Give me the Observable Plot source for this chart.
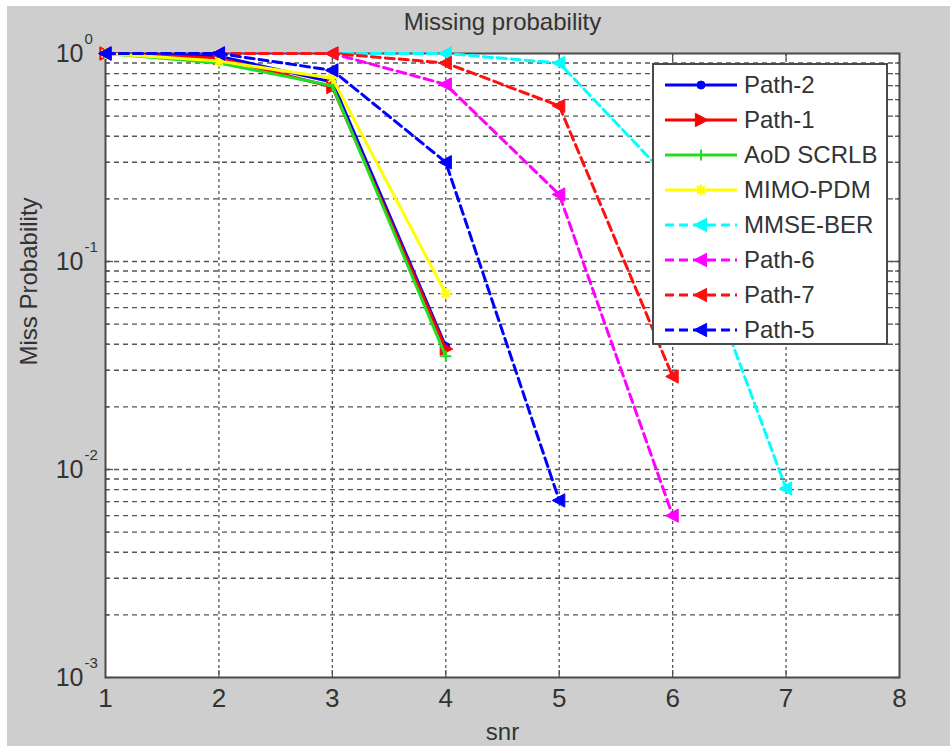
<!DOCTYPE html>
<html><head><meta charset="utf-8">
<script src="https://cdn.jsdelivr.net/npm/d3@7"></script>
<script src="https://cdn.jsdelivr.net/npm/@observablehq/plot@0.6"></script>
<style>
body{margin:0;background:#fff;}
#wrap{position:relative;width:950px;height:746px;overflow:hidden;background:#fff;}
#chart{position:absolute;left:7px;top:6px;}
#legend{position:absolute;left:652px;top:63px;width:232px;height:278px;background:#fff;border:2px solid #4a4a4a;
  font-family:"Liberation Sans",Arial,Helvetica,sans-serif;font-size:24px;color:#333;}
.row{position:absolute;left:0;height:35px;display:flex;align-items:center;}
.row svg{margin-left:11px;}
.row span{margin-left:7px;}
</style></head>
<body><div id="wrap"><div id="chart"></div><div id="legend"></div></div>
<script>
// ---- data ----
const snr = [1, 2, 3, 4, 5, 6, 7, 8];
const path2 = [1, 0.97, 0.73, 0.039];
const path1 = [1, 0.95, 0.69, 0.038];
const aodScrlb = [1, 0.90, 0.70, 0.035];
const mimoPdm = [1, 0.92, 0.76, 0.070];
const mmseBer = [1, 1, 1, 1, 0.90, 0.24, 0.0081];
const path6 = [1, 1, 1, 0.71, 0.21, 0.006];
const path7 = [1, 1, 1, 0.90, 0.56, 0.028];
const path5 = [1, 1, 0.83, 0.30, 0.0071];

const seriesNames = ["Path-2", "Path-1", "AoD SCRLB", "MIMO-PDM", "MMSE-BER", "Path-6", "Path-7", "Path-5"];
const seriesValues = [path2, path1, aodScrlb, mimoPdm, mmseBer, path6, path7, path5];
const seriesColors = ["#0000ff", "#ff0000", "#22dd22", "#ffff00", "#00ffff", "#ff00ff", "#ff1010", "#0000ff"];
const seriesDashed = [false, false, false, false, true, true, true, true];
const seriesMarkers = ["dot", "right", "plus", "star", "left", "left", "left", "left"];

const yTickExponents = [0, -1, -2, -3];
const xTickLabels = ["1", "2", "3", "4", "5", "6", "7", "8"];
const titleText = "Missing probability";
const xLabel = "snr";
const yLabel = "Miss Probability";

// ---- symbols ----
const rOf = s => Math.sqrt(s / Math.PI);
const symbols = {
  dot: {draw(c, s){ const r = rOf(s)*0.8; c.moveTo(r, 0); c.arc(0, 0, r, 0, 2*Math.PI); }},
  left: {draw(c, s){ const r = rOf(s); c.moveTo(-r, 0); c.lineTo(r*0.8, -r*0.95); c.lineTo(r*0.8, r*0.95); c.closePath(); }},
  right: {draw(c, s){ const r = rOf(s); c.moveTo(r, 0); c.lineTo(-r*0.8, -r*0.95); c.lineTo(-r*0.8, r*0.95); c.closePath(); }},
  plus: {draw(c, s){ const r = rOf(s)*0.8; c.moveTo(-r, 0); c.lineTo(r, 0); c.moveTo(0, -r); c.lineTo(0, r); }},
  star: {draw(c, s){ const r = rOf(s)*0.8, d = r*0.7; c.moveTo(-r, 0); c.lineTo(r, 0); c.moveTo(0, -r); c.lineTo(0, r);
    c.moveTo(-d, -d); c.lineTo(d, d); c.moveTo(-d, d); c.lineTo(d, -d); }}
};
const filledMarker = m => m === "dot" || m === "left" || m === "right";

// ---- layout ----
const W = 943, H = 740, mL = 98, mR = 51, mT = 47, mB = 69;
const plotW = W - mL - mR, plotH = H - mT - mB;
const font = '"Liberation Sans",Arial,Helvetica,sans-serif';

const gridY = [];
for (let e = -3; e <= -1; e++) for (let k = 1; k <= 9; k++) if (!(e === -3 && k === 1)) gridY.push(k * Math.pow(10, e));
const majorY = yTickExponents.map(e => Math.pow(10, e));
const innerX = snr.slice(1, -1);

const marks = [
  Plot.frame({fill: "white"}),
  Plot.ruleY(gridY, {y: d => d, stroke: "#555", strokeWidth: 1.3, strokeDasharray: "5,4"}),
  Plot.ruleX(innerX, {x: d => d, stroke: "#555", strokeWidth: 1.3, strokeDasharray: "3,3"}),
  // inner ticks
  Plot.ruleX(innerX, {x: d => d, insetTop: plotH - 7, stroke: "#555", strokeWidth: 1.3}),
  Plot.ruleX(innerX, {x: d => d, insetBottom: plotH - 7, stroke: "#555", strokeWidth: 1.3}),
  Plot.ruleY(gridY, {y: d => d, insetRight: plotW - 4, stroke: "#555", strokeWidth: 1.3}),
  Plot.ruleY(gridY, {y: d => d, insetLeft: plotW - 4, stroke: "#555", strokeWidth: 1.3}),
  Plot.ruleY(majorY, {y: d => d, insetRight: plotW - 8, stroke: "#555", strokeWidth: 1.3}),
  Plot.ruleY(majorY, {y: d => d, insetLeft: plotW - 8, stroke: "#555", strokeWidth: 1.3}),
  Plot.frame({stroke: "#4a4a4a", strokeWidth: 2}),
];

seriesValues.forEach((vals, i) => {
  const rows = vals.map((v, j) => ({x: snr[j], y: v}));
  marks.push(Plot.line(rows, {x: "x", y: "y", stroke: seriesColors[i], strokeWidth: 3,
    strokeDasharray: seriesDashed[i] ? "9,5" : null, strokeLinejoin: "round"}));
  const m = seriesMarkers[i];
  marks.push(Plot.dot(rows, {x: "x", y: "y", symbol: symbols[m], r: m === "dot" ? 5 : 7,
    fill: filledMarker(m) ? seriesColors[i] : "none", stroke: seriesColors[i], strokeWidth: filledMarker(m) ? 1 : 2}));
});

// texts
marks.push(
  Plot.text([titleText], {frameAnchor: "top", dy: -31, lineAnchor: "middle", fontSize: 24, fill: "#333"}),
  Plot.text(snr, {x: d => d, frameAnchor: "bottom", dy: 21, lineAnchor: "middle", text: (d, i) => xTickLabels[i], fontSize: 26, fill: "#333"}),
  Plot.text([xLabel], {frameAnchor: "bottom", dy: 55, lineAnchor: "middle", fontSize: 24, fill: "#333"}),
  Plot.text([yLabel], {frameAnchor: "left", dx: -76, rotate: -90, lineAnchor: "middle", fontSize: 24, fill: "#333"}),
  Plot.text(majorY, {x: 1, y: d => d, text: () => "10", dx: -22, textAnchor: "end", lineAnchor: "middle", fontSize: 25, fill: "#333"}),
  Plot.text(majorY, {x: 1, y: d => d, text: (d, i) => String(yTickExponents[i]), dx: -21, dy: -14, textAnchor: "start", lineAnchor: "middle", fontSize: 15, fill: "#333"})
);

const chart = Plot.plot({
  width: W, height: H, marginLeft: mL, marginRight: mR, marginTop: mT, marginBottom: mB,
  style: {background: "#cecece", fontFamily: font, overflow: "visible"},
  x: {domain: [1, 8], axis: null},
  y: {type: "log", domain: [1e-3, 1], axis: null},
  marks
});
document.getElementById("chart").appendChild(chart);

// legend
const leg = document.getElementById("legend");
seriesNames.forEach((name, i) => {
  const row = document.createElement("div");
  row.className = "row";
  row.style.top = (2 + i * 35) + "px";
  const m = seriesMarkers[i];
  const p = d3.path();
  const r = m === "dot" ? 5 : 7;
  symbols[m].draw(p, r * r * Math.PI);
  const fill = filledMarker(m) ? seriesColors[i] : "none";
  row.innerHTML = `<svg width="72" height="20" viewBox="0 0 72 20">
    <line x1="0" y1="10" x2="72" y2="10" stroke="${seriesColors[i]}" stroke-width="3" ${seriesDashed[i] ? 'stroke-dasharray="9,5"' : ''}/>
    <path transform="translate(36,10)" d="${p.toString()}" fill="${fill}" stroke="${seriesColors[i]}" stroke-width="${filledMarker(m) ? 1 : 2}"/>
  </svg><span>${name}</span>`;
  leg.appendChild(row);
});
</script>
</body></html>
